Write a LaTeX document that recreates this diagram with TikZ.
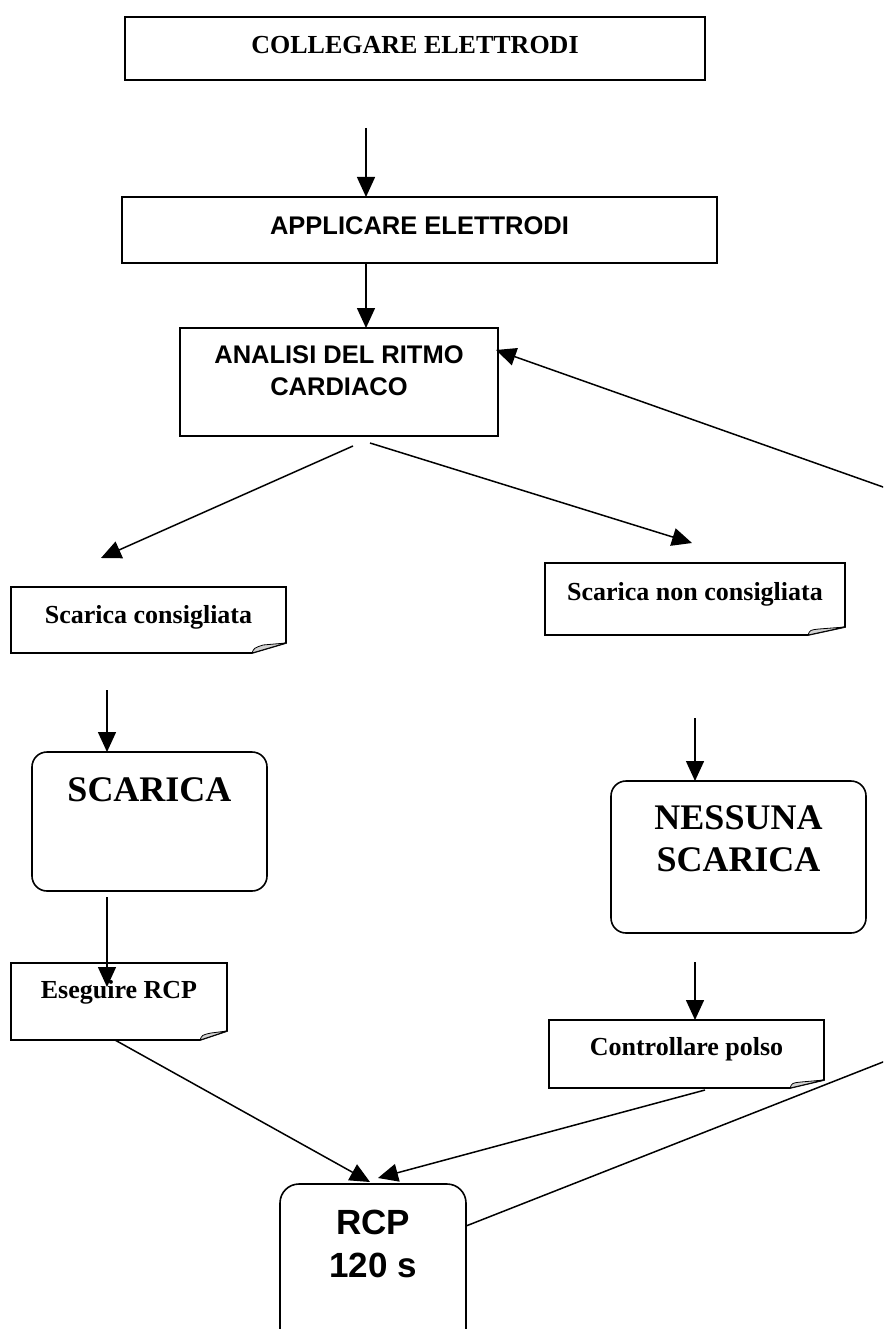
\documentclass[tikz,border=0pt]{standalone}
\usepackage{fontspec}
\newfontfamily\tnr{Liberation Serif}
\newfontfamily\ari{Liberation Sans}
\usetikzlibrary{arrows.meta}
\newcommand{\mynote}[3]{%
  \draw[line width=1.6pt, line join=miter] (#1.north west) -- (#1.north east) -- ([yshift=#3]#1.south east) -- ([xshift=-#2]#1.south east) -- (#1.south west) -- cycle;
  \filldraw[fill=gray!35, line width=0.8pt, line join=round] ([xshift=-#2]#1.south east) .. controls +(2pt,5pt) .. ([xshift=-#2+11pt,yshift=#3-2pt]#1.south east) -- ([yshift=#3]#1.south east) -- cycle;}
\tikzset{
  base/.style={inner sep=0pt, outer sep=0pt, align=center, text=black},
  sqbox/.style={base, draw, rectangle, line width=2pt},
  rbox/.style={base, draw, rectangle, rounded corners=15pt, line width=1.6pt},
  notebox/.style={base, rectangle},
  serifA/.style={font=\tnr\bfseries\fontsize{26}{32}\selectfont},
  sansA/.style={font=\ari\bfseries\fontsize{25.5}{32}\selectfont},
  serifB/.style={font=\tnr\bfseries\fontsize{36}{42}\selectfont},
  sansB/.style={font=\ari\bfseries\fontsize{35}{43}\selectfont},
  arr/.style={line width=1.5pt, -{Triangle[length=20pt,width=18pt]}},
  ln/.style={line width=1.5pt}
}
\begin{document}
\begin{tikzpicture}[x=1pt,y=-1pt]
\useasboundingbox (0,0) rectangle (883,1329);
\clip (0,0) rectangle (883,1329);
\fill[white] (0,0) rectangle (883,1329);

% boxes
\node[sqbox, serifA, line width=2.6pt, minimum width=580pt, minimum height=63pt, text height=17.2pt, text depth=7pt] (box1) at (415,48.5) {COLLEGARE ELETTRODI};
\node[sqbox, sansA, minimum width=595pt, minimum height=66pt, text height=18.3pt, text depth=10pt] (box2) at (419.5,230) {APPLICARE ELETTRODI};
\node[sqbox, sansA, minimum width=318pt, minimum height=108pt, text height=50.3pt, text depth=24pt] (box3) at (339,382) {ANALISI DEL RITMO\\CARDIACO};

% notes
\node[notebox, serifA, minimum width=275pt, minimum height=66pt, text height=17.2pt, text depth=10pt] (note1) at (148.5,620) {Scarica consigliata};
\node[notebox, serifA, minimum width=300pt, minimum height=72pt, text height=17.2pt, text depth=14pt] (note2) at (695,599) {Scarica non consigliata};
\node[notebox, serifA, minimum width=216pt, minimum height=77pt, text height=17.2pt, text depth=23pt] (note3) at (119,1001.5) {Eseguire RCP};
\node[notebox, serifA, minimum width=275pt, minimum height=68pt, text height=17.2pt, text depth=14pt] (note4) at (686.5,1054) {Controllare polso};
\mynote{note1}{34pt}{10pt}
\mynote{note2}{37pt}{8pt}
\mynote{note3}{27pt}{9pt}
\mynote{note4}{34pt}{8pt}

% rounded boxes
\node[rbox, serifB, minimum width=235pt, minimum height=139pt, text height=23.8pt, text depth=63pt] (scarica) at (149.5,821.5) {SCARICA};
\node[rbox, serifB, minimum width=255pt, minimum height=152pt, text height=65.8pt, text depth=36pt] (nessuna) at (738.5,857) {NESSUNA\\SCARICA};
\node[rbox, sansB, rounded corners=19pt, minimum width=186pt, minimum height=180pt, text height=68pt, text depth=61pt] (rcp) at (373,1274) {RCP\\120 s};

% connector end points
\coordinate (a1s) at (366,128);
\coordinate (a3s) at (353,446);
\coordinate (a3e) at (101,558);
\coordinate (a4s) at (370,443);
\coordinate (a4e) at (692,543);
\coordinate (a5s) at (900,493);
\coordinate (a5e) at (496,350);
\coordinate (a6s) at (107,690);
\coordinate (a7s) at (695,718);
\coordinate (a8s) at (107,897);
\coordinate (a8e) at (107,987);
\coordinate (a9s) at (695,962);
\coordinate (a10s) at (115,1040);
\coordinate (a10e) at (370,1182);
\coordinate (a11s) at (705,1090);
\coordinate (a11e) at (378,1178);
\coordinate (l12s) at (900,1055.3);
\coordinate (l12e) at (466,1226);

% connectors
\draw[arr] (a1s) -- (a1s |- box2.north);
\draw[arr] (box2.south -| a1s) -- (box3.north -| a1s);
\draw[arr] (a3s) -- (a3e);
\draw[arr] (a4s) -- (a4e);
\draw[arr] (a5s) -- (a5e);
\draw[arr] (a6s) -- (a6s |- scarica.north);
\draw[arr] (a7s) -- (a7s |- nessuna.north);
\draw[arr] (a8s) -- (a8e);
\draw[arr] (a9s) -- (a9s |- note4.north);
\draw[arr] (a10s) -- (a10e);
\draw[arr] (a11s) -- (a11e);
\draw[ln] (l12s) -- (l12e);
\end{tikzpicture}
\end{document}
